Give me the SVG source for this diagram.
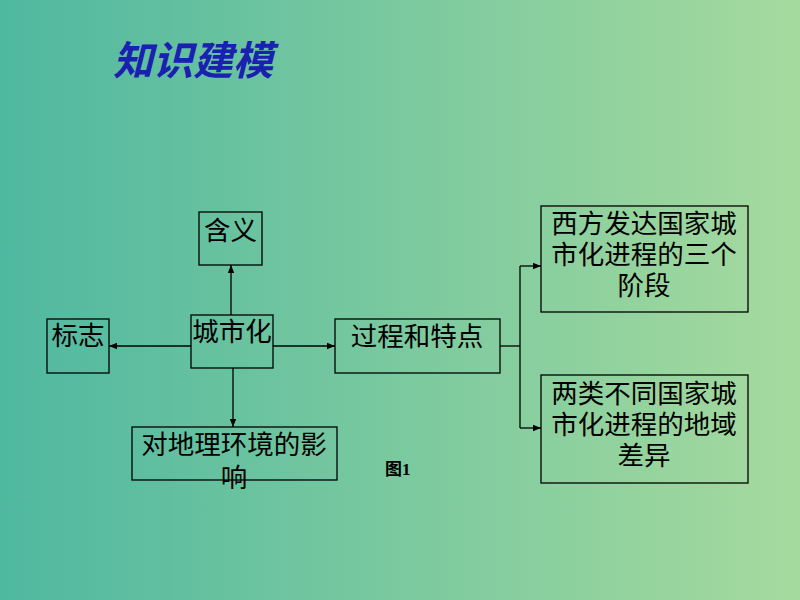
<svg xmlns="http://www.w3.org/2000/svg" width="800" height="600" viewBox="0 0 800 600">
<defs>
<linearGradient id="bg" x1="0" y1="0" x2="1" y2="0">
<stop offset="0" stop-color="#4fb8a0"/>
<stop offset="1" stop-color="#a6da9e"/>
</linearGradient>
<marker id="arr" viewBox="0 0 10 10" refX="10" refY="5" markerWidth="8" markerHeight="8" markerUnits="userSpaceOnUse" orient="auto">
<path d="M0,1 L10,5 L0,9 z" fill="#000"/>
</marker>
<style>
.box{fill:none;stroke:#000;stroke-width:1.3}
.t{font-family:"Liberation Serif","Noto Sans CJK SC",serif;font-size:26.5px;fill:#000}
.c{stroke:#000;stroke-width:1.3;fill:none}
</style>
</defs>
<rect width="800" height="600" fill="url(#bg)"/>
<text x="113" y="75" font-family="'Liberation Sans','Noto Sans CJK SC',sans-serif" font-size="40" font-weight="bold" font-style="italic" fill="#1a20b0">知识建模</text>
<g id="n-hanyi"><rect class="box" x="199" y="212" width="63" height="53"/><text class="t" x="230.5" y="240" text-anchor="middle">含义</text></g>
<g id="n-biaozhi"><rect class="box" x="47" y="319" width="62" height="54"/><text class="t" x="78" y="345" text-anchor="middle">标志</text></g>
<g id="n-chengshihua"><rect class="box" x="191" y="315" width="82" height="53"/><text class="t" x="232" y="341" text-anchor="middle">城市化</text></g>
<g id="n-guocheng"><rect class="box" x="335" y="319" width="165" height="54"/><text class="t" x="417" y="346" text-anchor="middle">过程和特点</text></g>
<g id="n-yingxiang"><rect class="box" x="132" y="427" width="205" height="53"/><text class="t" x="234" y="454" text-anchor="middle">对地理环境的影</text><text class="t" x="234" y="487" text-anchor="middle">响</text></g>
<g id="n-xifang"><rect class="box" x="541" y="206" width="207" height="106"/><text class="t" x="644" y="233" text-anchor="middle">西方发达国家城</text><text class="t" x="644" y="264" text-anchor="middle">市化进程的三个</text><text class="t" x="644" y="295" text-anchor="middle">阶段</text></g>
<g id="n-liangdi"><rect class="box" x="541" y="375" width="207" height="108"/><text class="t" x="644" y="403" text-anchor="middle">两类不同国家城</text><text class="t" x="644" y="434" text-anchor="middle">市化进程的地域</text><text class="t" x="644" y="465" text-anchor="middle">差异</text></g>
<text x="385" y="475" font-family="'Liberation Serif','Noto Sans CJK SC',serif" font-size="17" font-weight="bold" fill="#000">图1</text>
<g id="connectors">
<line class="c" x1="231" y1="315" x2="231" y2="265" marker-end="url(#arr)"/>
<line class="c" x1="191" y1="346" x2="109" y2="346" marker-end="url(#arr)"/>
<line class="c" x1="273" y1="346" x2="335" y2="346" marker-end="url(#arr)"/>
<line class="c" x1="233" y1="368" x2="233" y2="427" marker-end="url(#arr)"/>
<polyline class="c" points="500,346 520,346"/>
<line class="c" x1="520" y1="266" x2="520" y2="428"/>
<line class="c" x1="520" y1="266" x2="541" y2="266" marker-end="url(#arr)"/>
<line class="c" x1="520" y1="428" x2="541" y2="428" marker-end="url(#arr)"/>
</g>
</svg>
